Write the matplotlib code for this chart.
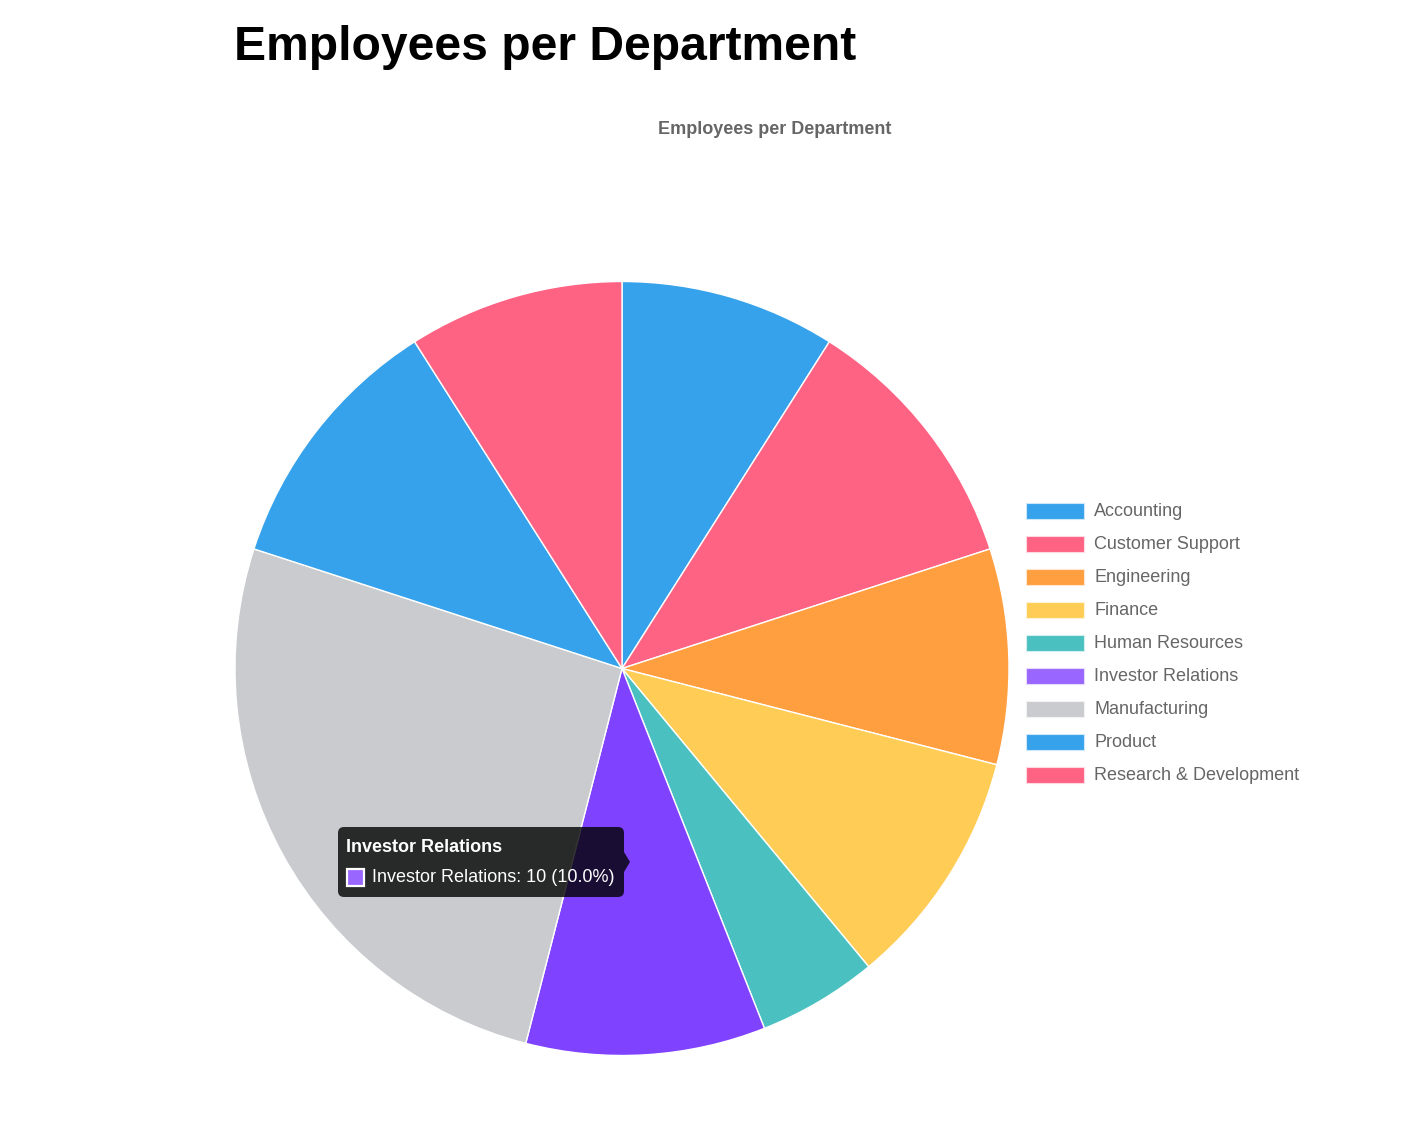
import matplotlib
matplotlib.use("Agg")
import matplotlib.pyplot as plt
from matplotlib.colors import to_rgb
from matplotlib.patches import FancyBboxPatch, Polygon, Rectangle

departments = ["Accounting", "Customer Support", "Engineering", "Finance", "Human Resources",
               "Investor Relations", "Manufacturing", "Product", "Research & Development"]
employees = [9, 11, 9, 10, 5, 10, 26, 11, 9]
legend_colors = ["#36A2EB", "#FF6384", "#FF9F40", "#FFCD56", "#4BC0C0",
                 "#9966FF", "#C9CBCF", "#36A2EB", "#FF6384"]
# investor relations is the hovered slice so it is darker in the pie
pie_colors = list(legend_colors)
pie_colors[5] = "#7F42FF"

W, H = 1407, 1132
plt.rcParams["font.family"] = ["Liberation Sans", "DejaVu Sans"]

def px(size):
    return size * 72 / 100

fig = plt.figure(figsize=(W / 100, H / 100), dpi=100)
ax = fig.add_axes([0, 0, 1, 1])

ax.pie(employees, colors=pie_colors, startangle=90, counterclock=False,
       center=(622, H - 668.5), radius=387, frame=True,
       wedgeprops={"edgecolor": "white", "linewidth": 1})
ax.set_xlim(0, W)
ax.set_ylim(0, H)
ax.set_aspect("auto")
ax.axis("off")

ax.text(234, H - 47, "Employees per Department", fontsize=px(48), fontweight="bold",
        color="black", va="center", ha="left")
ax.text(774.5, H - 130, "Employees per Department", fontsize=px(18), fontweight="bold",
        color="#666666", va="center", ha="center")

# legend
for i, (name, col) in enumerate(zip(departments, legend_colors)):
    y = 511 + i * 33
    edge = tuple(c + (1 - c) * 0.75 for c in to_rgb(col))
    ax.add_patch(Rectangle((1025.5, H - y - 8), 58, 16, facecolor=col,
                           edgecolor=edge, linewidth=0.8))
    ax.text(1094, H - y + 0.5 - 1, name, fontsize=px(18), color="#666666", va="center", ha="left")

# tooltip
ax.add_patch(FancyBboxPatch((343, H - 892), 276, 60, boxstyle="round,pad=5,rounding_size=6",
                            facecolor="black", edgecolor="none", alpha=0.8, zorder=5))
ax.add_patch(Polygon([(624, H - 852), (630, H - 862), (624, H - 872)], closed=True,
                     facecolor="black", edgecolor="none", alpha=0.8, zorder=5))
ax.text(346, H - 847.5, "Investor Relations", fontsize=px(18), fontweight="bold",
        color="white", va="center", ha="left", zorder=6)
ax.add_patch(Rectangle((347, H - 886), 17, 17, facecolor="#9966FF", edgecolor="white",
                       linewidth=1.6, zorder=6))
ax.text(372.5, H - 877.5, "Investor Relations: 10 (10.0%)", fontsize=px(18), color="white",
        va="center", ha="left", zorder=6)

fig.savefig("out.png", dpi=100, facecolor="white")
